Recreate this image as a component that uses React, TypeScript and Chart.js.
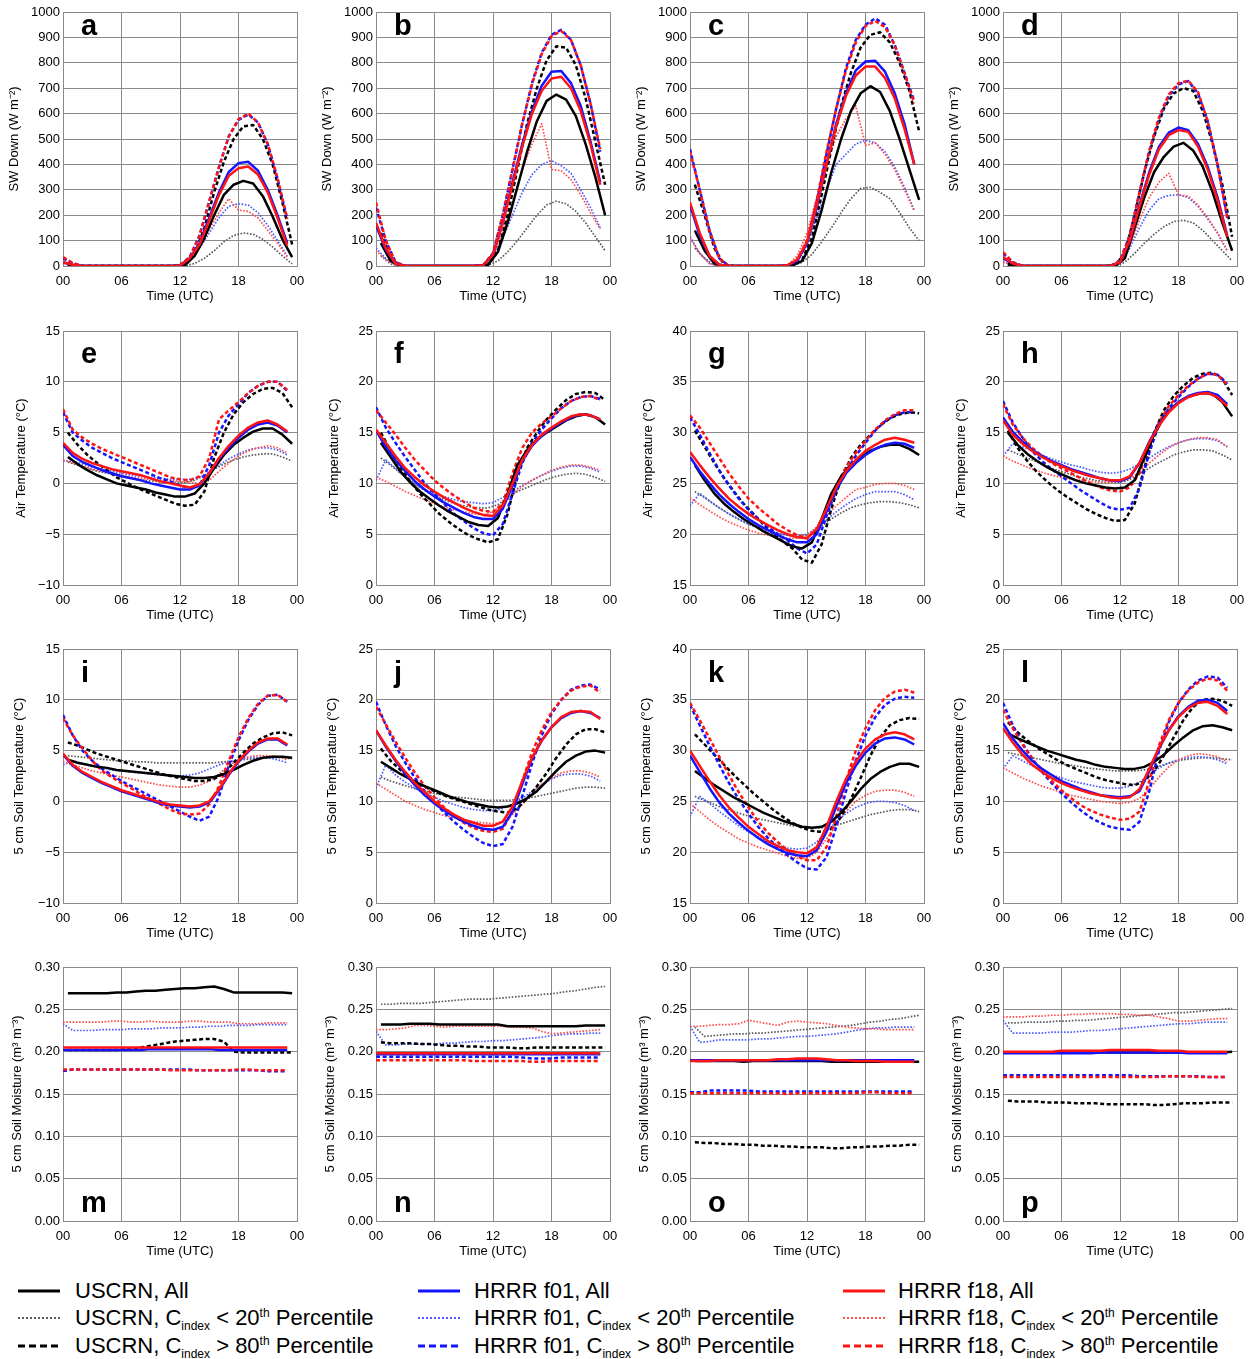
import React, { useEffect, useRef } from "react";
import { Chart, registerables } from "chart.js";

Chart.register(...registerables);

const FONT = '"Liberation Sans", Arial, Helvetica, sans-serif';
Chart.defaults.font.family = FONT;
Chart.defaults.color = "#000";

// ---- time axes -------------------------------------------------------------
// Model (HRRR) values are valid on the hour, station (USCRN) values mid-hour.
const HOURS_HRRR = [0, 1, 2, 3, 4, 5, 6, 7, 8, 9, 10, 11, 12, 13, 14, 15, 16, 17, 18, 19, 20, 21, 22, 23];
const HOURS_OBS = [0.5, 1.5, 2.5, 3.5, 4.5, 5.5, 6.5, 7.5, 8.5, 9.5, 10.5, 11.5, 12.5, 13.5, 14.5, 15.5, 16.5, 17.5, 18.5, 19.5, 20.5, 21.5, 22.5, 23.5];
const X_TICK_LABELS = ["00", "06", "12", "18", "00"];

// Series order in every panel:
// USCRN all, USCRN <20th, USCRN >80th, f01 all, f01 <20th, f01 >80th, f18 all, f18 <20th, f18 >80th
type Series = (number | null)[];

// ---- a-d: downward shortwave (W m-2) ---------------------------------------
const SW_A: Series[] = [
  [5, 0, 0, 0, 0, 0, 0, 0, 0, 0, 0, 0, 3, 40, 110, 200, 280, 320, 335, 325, 275, 195, 105, 35],
  [2, 0, 0, 0, 0, 0, 0, 0, 0, 0, 0, 0, 0, 10, 30, 60, 95, 120, 130, 125, 105, 75, 40, 8],
  [10, 0, 0, 0, 0, 0, 0, 0, 0, 0, 0, 0, 3, 45, 150, 290, 410, 500, 550, 555, 500, 400, 250, 85],
  [15, 5, 0, 0, 0, 0, 0, 0, 0, 0, 0, 0, 2, 30, 90, 190, 290, 370, 405, 410, 375, 300, 200, 90],
  [8, 3, 0, 0, 0, 0, 0, 0, 0, 0, 0, 0, 2, 25, 70, 130, 190, 235, 245, 240, 210, 160, 100, 40],
  [30, 10, 0, 0, 0, 0, 0, 0, 0, 0, 0, 0, 3, 35, 120, 255, 390, 510, 575, 597, 565, 480, 345, 185],
  [15, 5, 0, 0, 0, 0, 0, 0, 0, 0, 0, 0, 2, 30, 85, 180, 280, 355, 385, 392, 360, 290, 190, 80],
  [10, 3, 0, 0, 0, 0, 0, 0, 0, 0, 0, 0, 2, 25, 75, 145, 210, 265, 220, 215, 190, 140, 90, 35],
  [35, 12, 0, 0, 0, 0, 0, 0, 0, 0, 0, 0, 3, 35, 120, 255, 390, 510, 578, 600, 565, 480, 345, 185],
];
const SW_B: Series[] = [
  [90, 20, 0, 0, 0, 0, 0, 0, 0, 0, 0, 5, 55, 170, 310, 450, 570, 650, 675, 655, 590, 480, 350, 200],
  [40, 8, 0, 0, 0, 0, 0, 0, 0, 0, 0, 2, 20, 55, 100, 150, 200, 240, 255, 245, 215, 170, 115, 60],
  [130, 30, 0, 0, 0, 0, 0, 0, 0, 0, 0, 5, 60, 200, 380, 560, 700, 810, 865, 860, 790, 660, 490, 320],
  [160, 65, 10, 0, 0, 0, 0, 0, 0, 0, 0, 3, 45, 170, 330, 480, 610, 710, 765, 768, 720, 630, 490, 330],
  [70, 30, 5, 0, 0, 0, 0, 0, 0, 0, 0, 2, 35, 110, 200, 290, 360, 400, 415, 395, 365, 300, 230, 150],
  [230, 100, 15, 0, 0, 0, 0, 0, 0, 0, 0, 4, 50, 200, 380, 560, 720, 840, 910, 930, 890, 790, 640, 450],
  [170, 70, 10, 0, 0, 0, 0, 0, 0, 0, 0, 3, 45, 170, 320, 470, 600, 690, 738, 745, 700, 610, 480, 320],
  [60, 25, 5, 0, 0, 0, 0, 0, 0, 0, 0, 2, 40, 130, 250, 380, 480, 560, 380, 375, 340, 280, 210, 145],
  [250, 100, 15, 0, 0, 0, 0, 0, 0, 0, 0, 4, 50, 200, 380, 560, 715, 835, 905, 925, 890, 790, 640, 460],
];
const SW_C: Series[] = [
  [140, 60, 10, 0, 0, 0, 0, 0, 0, 0, 2, 20, 90, 220, 370, 500, 610, 680, 708, 685, 610, 500, 380, 260],
  [70, 30, 5, 0, 0, 0, 0, 0, 0, 0, 2, 15, 45, 95, 150, 210, 265, 305, 310, 290, 265, 210, 150, 100],
  [320, 200, 70, 5, 0, 0, 0, 0, 0, 0, 3, 25, 110, 280, 460, 630, 760, 860, 910, 920, 880, 800, 690, 530],
  [240, 120, 40, 5, 0, 0, 0, 0, 0, 0, 2, 20, 90, 230, 400, 560, 680, 770, 805, 808, 765, 680, 560, 400],
  [115, 50, 10, 0, 0, 0, 0, 0, 0, 0, 2, 20, 90, 190, 300, 400, 440, 480, 495, 485, 450, 390, 310, 220],
  [460, 300, 140, 30, 0, 0, 0, 0, 0, 0, 2, 20, 90, 250, 440, 620, 780, 890, 950, 975, 950, 870, 760, 650],
  [250, 130, 40, 5, 0, 0, 0, 0, 0, 0, 3, 25, 95, 240, 400, 550, 670, 750, 785, 785, 740, 660, 540, 400],
  [110, 50, 10, 0, 0, 0, 0, 0, 0, 0, 3, 40, 130, 270, 400, 510, 580, 630, 475, 485, 440, 380, 300, 215],
  [450, 300, 140, 30, 0, 0, 0, 0, 0, 0, 3, 25, 100, 260, 450, 620, 770, 880, 945, 965, 940, 870, 760, 640],
];
const SW_D: Series[] = [
  [5, 0, 0, 0, 0, 0, 0, 0, 0, 0, 0, 0, 30, 150, 270, 370, 430, 470, 485, 455, 390, 290, 170, 60],
  [2, 0, 0, 0, 0, 0, 0, 0, 0, 0, 0, 0, 15, 50, 90, 125, 155, 175, 180, 170, 140, 100, 60, 20],
  [10, 0, 0, 0, 0, 0, 0, 0, 0, 0, 0, 3, 50, 200, 370, 510, 620, 680, 700, 690, 610, 480, 320, 115],
  [30, 10, 0, 0, 0, 0, 0, 0, 0, 0, 0, 0, 15, 100, 240, 370, 470, 525, 545, 535, 480, 390, 270, 120],
  [15, 5, 0, 0, 0, 0, 0, 0, 0, 0, 0, 0, 10, 70, 150, 220, 265, 278, 280, 270, 235, 185, 130, 60],
  [50, 15, 0, 0, 0, 0, 0, 0, 0, 0, 0, 0, 20, 120, 290, 450, 580, 670, 715, 728, 680, 570, 400, 190],
  [35, 10, 0, 0, 0, 0, 0, 0, 0, 0, 0, 0, 15, 100, 235, 360, 460, 515, 535, 528, 470, 380, 260, 115],
  [15, 5, 0, 0, 0, 0, 0, 0, 0, 0, 0, 0, 10, 80, 180, 270, 330, 365, 280, 275, 240, 190, 130, 60],
  [55, 15, 0, 0, 0, 0, 0, 0, 0, 0, 0, 0, 20, 120, 290, 455, 585, 675, 720, 730, 685, 570, 400, 190],
];

// ---- e-h: 2 m air temperature (°C) ------------------------------------------
const AIR_E: Series[] = [
  [2.6, 1.9, 1.3, 0.8, 0.4, 0.0, -0.2, -0.4, -0.6, -0.9, -1.1, -1.3, -1.3, -1.0, 0.0, 1.5, 2.8, 3.8, 4.5, 5.1, 5.4, 5.4, 4.8, 3.9],
  [2.1, 1.8, 1.5, 1.2, 1.0, 0.8, 0.6, 0.4, 0.3, 0.2, 0.1, 0.1, 0.1, 0.3, 0.8, 1.4, 1.9, 2.3, 2.6, 2.8, 2.9, 2.9, 2.6, 2.2],
  [5.0, 3.8, 2.8, 2.0, 1.3, 0.6, 0.1, -0.4, -0.8, -1.2, -1.6, -2.0, -2.2, -2.1, -0.8, 2.5, 5.0, 6.8, 8.0, 8.8, 9.3, 9.4, 8.9, 7.5],
  [3.8, 2.7, 2.1, 1.7, 1.3, 1.0, 0.7, 0.5, 0.3, 0.0, -0.2, -0.4, -0.6, -0.6, -0.2, 1.0, 2.4, 3.5, 4.5, 5.3, 5.8, 6.0, 5.7, 5.0],
  [2.2, 2.2, 1.9, 1.6, 1.4, 1.2, 1.0, 0.8, 0.7, 0.6, 0.5, 0.4, 0.4, 0.4, 0.6, 1.0, 1.8, 2.4, 2.9, 3.3, 3.5, 3.5, 3.3, 2.8],
  [7.0, 5.0, 4.2, 3.5, 3.0, 2.5, 2.1, 1.7, 1.3, 0.9, 0.5, 0.2, -0.2, -0.5, -0.2, 1.8, 5.0, 6.7, 7.8, 8.9, 9.6, 10.0, 10.0, 9.1],
  [4.0, 3.0, 2.4, 2.0, 1.7, 1.4, 1.2, 1.0, 0.8, 0.5, 0.2, 0.0, -0.2, -0.4, -0.1, 1.0, 2.5, 3.7, 4.7, 5.5, 6.0, 6.2, 5.8, 5.1],
  [2.3, 2.0, 1.7, 1.4, 1.2, 1.0, 0.8, 0.6, 0.5, 0.4, 0.3, 0.3, 0.2, 0.1, 0.0, 0.3, 1.2, 2.0, 2.7, 3.2, 3.5, 3.7, 3.5, 3.0],
  [7.3, 5.3, 4.5, 3.9, 3.4, 3.0, 2.6, 2.2, 1.8, 1.4, 1.0, 0.6, 0.4, 0.3, 0.7, 2.5, 6.3, 7.2, 8.0, 8.9, 9.6, 10.0, 10.0, 9.2],
];
const AIR_F: Series[] = [
  [14.0, 12.6, 11.2, 10.1, 9.2, 8.5, 7.8, 7.2, 6.7, 6.2, 5.9, 5.8, 6.6, 9.0, 11.8, 13.3, 14.3, 15.0, 15.6, 16.2, 16.6, 16.8, 16.5, 15.8],
  [12.5, 11.8, 11.0, 10.3, 9.6, 9.0, 8.6, 8.2, 7.9, 7.7, 7.6, 7.6, 7.9, 8.6, 9.2, 9.6, 10.0, 10.4, 10.7, 10.9, 11.0, 10.9, 10.6, 10.2],
  [15.0, 13.2, 11.6, 10.2, 9.0, 8.0, 7.0, 6.2, 5.5, 4.9, 4.5, 4.2, 4.5, 7.0, 11.0, 13.5, 15.0, 16.3, 17.3, 18.2, 18.8, 19.0, 18.9, 18.2],
  [15.2, 13.6, 12.3, 11.2, 10.2, 9.4, 8.7, 8.1, 7.6, 7.1, 6.7, 6.5, 6.5, 7.5, 9.8, 12.2, 13.7, 14.7, 15.4, 16.0, 16.5, 16.8, 16.7, 16.3],
  [10.3, 12.3, 11.5, 10.6, 9.9, 9.4, 9.0, 8.7, 8.4, 8.2, 8.1, 8.0, 8.1, 8.6, 9.2, 9.8, 10.3, 10.8, 11.2, 11.5, 11.7, 11.7, 11.5, 11.1],
  [17.5, 15.5, 14.0, 12.6, 11.3, 10.0, 9.0, 8.0, 7.0, 6.3, 5.6, 5.1, 4.9, 6.0, 9.0, 12.0, 14.0, 15.3, 16.4, 17.4, 18.1, 18.5, 18.6, 18.3],
  [15.3, 14.0, 12.7, 11.5, 10.6, 9.8, 9.2, 8.6, 8.1, 7.6, 7.2, 6.9, 6.8, 7.8, 10.0, 12.3, 13.8, 14.8, 15.5, 16.1, 16.6, 16.8, 16.7, 16.3],
  [10.6, 10.2, 9.7, 9.2, 8.8, 8.4, 8.0, 7.7, 7.4, 7.2, 7.0, 6.9, 7.2, 8.0, 8.9, 9.7, 10.3, 10.8, 11.3, 11.6, 11.8, 11.8, 11.6, 11.3],
  [17.2, 16.0, 14.8, 13.5, 12.3, 11.3, 10.3, 9.5, 8.8, 8.2, 7.6, 7.3, 7.2, 8.0, 11.0, 13.5, 15.0, 15.9, 16.6, 17.4, 18.1, 18.5, 18.6, 18.2],
];
const AIR_G: Series[] = [
  [26.8, 25.3, 24.0, 23.0, 22.2, 21.5, 20.9, 20.3, 19.8, 19.3, 18.8, 18.6, 19.2, 21.5, 24.0, 25.7, 26.8, 27.6, 28.2, 28.6, 28.8, 28.8, 28.4, 27.8],
  [24.2, 23.6, 22.9, 22.3, 21.7, 21.2, 20.8, 20.5, 20.2, 20.0, 19.8, 19.8, 20.0, 20.8, 21.5, 22.1, 22.6, 22.9, 23.1, 23.2, 23.2, 23.1, 22.9, 22.6],
  [30.2, 28.6, 27.0, 25.5, 24.2, 23.0, 22.0, 21.0, 20.1, 19.3, 18.6, 17.5, 17.2, 19.0, 22.5, 25.5, 27.5, 28.8, 29.8, 30.7, 31.4, 31.8, 32.0, 31.9],
  [27.6, 26.2, 25.0, 23.9, 23.0, 22.2, 21.5, 20.9, 20.4, 19.9, 19.5, 19.2, 19.2, 20.0, 22.2, 24.4, 26.0, 27.0, 27.8, 28.4, 28.8, 29.0, 28.9, 28.5],
  [22.8, 24.0, 23.3, 22.6, 22.0, 21.5, 21.0, 20.7, 20.4, 20.1, 19.9, 19.8, 20.0, 20.6, 21.4, 22.2, 22.9, 23.5, 23.9, 24.2, 24.2, 24.2, 23.9, 23.4],
  [31.5, 29.8, 28.0, 26.3, 24.8, 23.5, 22.4, 21.5, 20.7, 20.0, 19.4, 18.6, 18.1, 19.0, 21.8, 24.3, 26.2, 27.7, 29.0, 30.2, 31.1, 31.7, 32.0, 32.0],
  [28.1, 26.8, 25.6, 24.5, 23.5, 22.7, 22.0, 21.4, 20.9, 20.4, 20.0, 19.7, 19.6, 20.5, 22.5, 24.6, 26.2, 27.3, 28.2, 28.8, 29.3, 29.5, 29.3, 29.0],
  [23.6, 22.9, 22.3, 21.7, 21.2, 20.8, 20.4, 20.1, 19.9, 19.7, 19.6, 19.6, 19.9, 20.7, 21.8, 22.8, 23.6, 24.4, 24.6, 24.9, 25.0, 25.0, 24.8, 24.4],
  [31.7, 30.5, 29.0, 27.5, 26.0, 24.7, 23.5, 22.6, 21.8, 21.0, 20.4, 19.9, 19.6, 20.5, 22.5, 24.7, 26.6, 28.0, 29.2, 30.3, 31.2, 31.8, 32.2, 32.2],
];
const AIR_H: Series[] = [
  [15.0, 13.8, 12.9, 12.2, 11.6, 11.1, 10.7, 10.3, 10.0, 9.8, 9.6, 9.5, 9.6, 10.3, 12.5, 14.8, 16.5, 17.6, 18.3, 18.7, 18.9, 18.8, 18.0, 16.6],
  [13.3, 12.9, 12.5, 12.1, 11.7, 11.3, 11.0, 10.7, 10.5, 10.3, 10.2, 10.1, 10.2, 10.6, 11.2, 11.8, 12.3, 12.8, 13.1, 13.3, 13.3, 13.2, 12.8, 12.3],
  [15.2, 13.5, 12.2, 11.1, 10.2, 9.4, 8.7, 8.1, 7.5, 7.0, 6.6, 6.3, 6.4, 8.0, 11.5, 15.0, 17.2, 18.6, 19.6, 20.4, 20.8, 20.9, 20.3, 18.7],
  [16.5, 15.1, 14.1, 13.3, 12.7, 12.2, 11.8, 11.4, 11.1, 10.8, 10.5, 10.3, 10.2, 10.6, 12.0, 14.1, 15.8, 17.1, 18.0, 18.6, 18.9, 19.0, 18.7, 17.8],
  [12.7, 13.9, 13.6, 13.2, 12.8, 12.4, 12.1, 11.8, 11.6, 11.3, 11.1, 11.0, 11.1, 11.4, 11.9, 12.5, 13.1, 13.6, 14.0, 14.3, 14.4, 14.4, 14.2, 13.6],
  [18.1, 16.0, 14.5, 13.2, 12.2, 11.4, 10.7, 10.0, 9.3, 8.7, 8.1, 7.6, 7.4, 7.6, 9.5, 13.0, 15.8, 17.4, 18.5, 19.5, 20.3, 20.8, 20.7, 19.8],
  [16.2, 14.8, 13.9, 13.2, 12.6, 12.1, 11.7, 11.3, 11.0, 10.7, 10.5, 10.3, 10.3, 10.7, 12.0, 14.0, 15.7, 17.0, 17.9, 18.5, 18.8, 18.9, 18.5, 17.6],
  [12.7, 12.2, 11.8, 11.4, 11.1, 10.8, 10.6, 10.4, 10.3, 10.2, 10.1, 10.1, 10.2, 10.5, 11.1, 12.0, 12.8, 13.5, 14.0, 14.3, 14.5, 14.5, 14.3, 13.6],
  [17.8, 15.8, 14.5, 13.5, 12.7, 12.0, 11.5, 11.0, 10.5, 10.0, 9.6, 9.3, 9.2, 9.6, 11.0, 13.8, 16.0, 17.6, 18.7, 19.6, 20.3, 20.8, 20.7, 19.7],
];

// ---- i-l: 5 cm soil temperature (°C) ----------------------------------------
const SOIL_I: Series[] = [
  [4.1, 3.8, 3.6, 3.4, 3.3, 3.1, 3.0, 2.9, 2.8, 2.7, 2.6, 2.5, 2.4, 2.3, 2.3, 2.4, 2.7, 3.1, 3.6, 4.0, 4.3, 4.4, 4.4, 4.3],
  [4.5, 4.4, 4.3, 4.2, 4.1, 4.0, 4.0, 3.9, 3.9, 3.8, 3.8, 3.8, 3.8, 3.8, 3.8, 3.8, 3.9, 4.0, 4.1, 4.2, 4.3, 4.3, 4.3, 4.2],
  [5.8, 5.5, 5.1, 4.7, 4.4, 4.1, 3.8, 3.5, 3.2, 2.9, 2.6, 2.4, 2.2, 2.0, 2.0, 2.2, 2.8, 3.8, 4.8, 5.7, 6.3, 6.7, 6.8, 6.5],
  [4.6, 3.5, 2.8, 2.3, 1.8, 1.4, 1.0, 0.7, 0.4, 0.1, -0.2, -0.4, -0.5, -0.6, -0.5, -0.1, 1.1, 2.6, 3.9, 4.9, 5.7, 6.1, 6.1, 5.5],
  [3.6, 4.0, 3.7, 3.5, 3.3, 3.1, 3.0, 2.9, 2.8, 2.7, 2.6, 2.5, 2.5, 2.6, 2.8, 3.2, 3.6, 3.9, 4.1, 4.3, 4.3, 4.3, 4.1, 3.8],
  [8.5, 6.5, 5.0, 4.0, 3.2, 2.6, 2.0, 1.5, 1.0, 0.5, 0.0, -0.5, -1.0, -1.5, -1.9, -1.5, 0.5, 3.5, 6.0, 8.0, 9.5, 10.4, 10.5, 9.8],
  [4.7, 3.6, 2.9, 2.4, 1.9, 1.5, 1.1, 0.8, 0.5, 0.2, -0.1, -0.3, -0.4, -0.5, -0.4, 0.0, 1.2, 2.7, 4.0, 5.0, 5.8, 6.2, 6.2, 5.6],
  [3.9, 3.6, 3.3, 3.0, 2.8, 2.6, 2.4, 2.2, 2.0, 1.8, 1.6, 1.5, 1.4, 1.4, 1.6, 2.0, 2.7, 3.5, 4.1, 4.4, 4.5, 4.5, 4.4, 4.1],
  [8.2, 6.5, 5.2, 4.0, 3.0, 2.4, 1.8, 1.3, 0.7, 0.2, -0.3, -0.8, -1.2, -1.3, -1.2, -0.3, 1.5, 4.0, 6.3, 8.2, 9.6, 10.4, 10.5, 9.8],
];
const SOIL_J: Series[] = [
  [13.9, 13.3, 12.7, 12.2, 11.7, 11.3, 10.9, 10.5, 10.2, 9.9, 9.7, 9.5, 9.4, 9.5, 9.8, 10.3, 11.0, 12.0, 13.0, 13.9, 14.5, 14.9, 15.0, 14.8],
  [12.4, 12.0, 11.7, 11.4, 11.1, 10.9, 10.7, 10.5, 10.4, 10.3, 10.2, 10.1, 10.1, 10.1, 10.2, 10.3, 10.5, 10.7, 10.9, 11.1, 11.3, 11.4, 11.4, 11.3],
  [15.2, 14.0, 13.1, 12.3, 11.7, 11.2, 10.8, 10.4, 10.1, 9.8, 9.5, 9.2, 9.0, 8.9, 9.3, 10.3, 11.5, 12.8, 14.3, 15.6, 16.6, 17.1, 17.1, 16.8],
  [17.0, 15.4, 14.0, 12.7, 11.6, 10.6, 9.8, 9.1, 8.5, 8.0, 7.6, 7.3, 7.2, 7.5, 9.0, 11.7, 14.2, 16.0, 17.3, 18.2, 18.7, 18.9, 18.7, 18.2],
  [11.3, 13.6, 12.6, 11.9, 11.3, 10.8, 10.4, 10.0, 9.7, 9.4, 9.2, 9.1, 9.1, 9.3, 9.7, 10.3, 11.0, 11.6, 12.2, 12.6, 12.7, 12.7, 12.5, 12.0],
  [19.8, 17.5, 15.5, 13.8, 12.3, 11.0, 9.9, 8.9, 8.0, 7.2, 6.5, 5.9, 5.6, 5.8, 7.5, 10.5, 13.7, 16.5, 18.6, 20.0, 21.0, 21.4, 21.5, 21.0],
  [17.0, 15.5, 14.1, 12.9, 11.8, 10.9, 10.0, 9.3, 8.7, 8.2, 7.9, 7.6, 7.6, 8.0, 9.5, 12.0, 14.3, 16.0, 17.3, 18.3, 18.8, 18.9, 18.8, 18.1],
  [11.8, 11.2, 10.6, 10.0, 9.6, 9.2, 8.9, 8.6, 8.4, 8.2, 8.0, 7.9, 7.8, 8.0, 8.7, 9.7, 10.8, 11.7, 12.3, 12.8, 13.0, 13.0, 12.8, 12.4],
  [19.3, 17.6, 15.9, 14.3, 12.8, 11.5, 10.4, 9.4, 8.6, 7.9, 7.4, 7.1, 7.0, 7.3, 9.0, 12.0, 14.8, 17.0, 18.8, 20.0, 20.9, 21.3, 21.4, 20.7],
];
const SOIL_K: Series[] = [
  [28.0, 27.3, 26.6, 26.0, 25.4, 24.9, 24.4, 23.9, 23.5, 23.1, 22.8, 22.5, 22.4, 22.5, 23.0, 23.9, 25.0, 26.2, 27.2, 27.9, 28.4, 28.7, 28.7, 28.4],
  [25.5, 25.1, 24.7, 24.3, 24.0, 23.7, 23.4, 23.2, 23.0, 22.8, 22.6, 22.5, 22.4, 22.4, 22.5, 22.8, 23.1, 23.4, 23.7, 23.9, 24.1, 24.2, 24.2, 24.0],
  [31.6, 30.6, 29.6, 28.6, 27.6, 26.7, 25.8, 25.0, 24.2, 23.5, 22.9, 22.4, 22.1, 22.0, 22.3, 23.5, 25.2, 27.3, 29.5, 31.3, 32.5, 33.0, 33.2, 33.1],
  [29.5, 27.9, 26.3, 24.9, 23.8, 22.9, 22.1, 21.4, 20.8, 20.3, 19.9, 19.7, 19.6, 20.2, 22.0, 24.5, 26.8, 28.5, 29.8, 30.7, 31.2, 31.3, 31.1, 30.6],
  [23.5, 25.5, 24.8, 24.0, 23.3, 22.6, 22.0, 21.5, 21.0, 20.7, 20.4, 20.3, 20.4, 21.0, 22.0, 23.0, 23.8, 24.4, 24.8, 25.0, 25.0, 24.9, 24.6, 24.1],
  [34.5, 32.5, 30.5, 28.6, 26.8, 25.2, 23.8, 22.5, 21.4, 20.5, 19.7, 19.0, 18.4, 18.3, 19.5, 22.5, 26.0, 29.0, 31.5, 33.3, 34.5, 35.1, 35.3, 35.2],
  [30.0, 28.5, 27.0, 25.6, 24.4, 23.4, 22.5, 21.8, 21.1, 20.6, 20.2, 20.0, 19.9, 20.5, 22.5, 25.0, 27.2, 28.9, 30.2, 31.1, 31.6, 31.8, 31.6, 31.1],
  [24.8, 24.0, 23.2, 22.5, 21.9, 21.3, 20.9, 20.5, 20.2, 19.9, 19.6, 19.4, 19.4, 20.0, 21.3, 22.7, 24.0, 25.0, 25.6, 26.0, 26.1, 26.1, 25.9, 25.5],
  [34.7, 33.0, 31.2, 29.4, 27.6, 25.9, 24.4, 23.0, 21.9, 21.0, 20.2, 19.6, 19.2, 19.2, 20.5, 23.5, 27.0, 30.0, 32.2, 34.0, 35.2, 35.8, 36.0, 35.7],
];
const SOIL_L: Series[] = [
  [16.7, 16.2, 15.8, 15.4, 15.0, 14.7, 14.4, 14.1, 13.9, 13.6, 13.4, 13.3, 13.2, 13.2, 13.4, 13.9, 14.6, 15.5, 16.3, 17.0, 17.4, 17.5, 17.3, 17.0],
  [14.8, 14.6, 14.4, 14.2, 14.0, 13.8, 13.6, 13.5, 13.3, 13.2, 13.1, 13.0, 13.0, 13.0, 13.1, 13.3, 13.6, 13.9, 14.1, 14.2, 14.3, 14.3, 14.2, 14.1],
  [17.8, 16.8, 16.0, 15.3, 14.7, 14.1, 13.6, 13.2, 12.8, 12.4, 12.1, 11.9, 11.7, 11.6, 12.0, 13.0, 14.5, 16.3, 18.0, 19.3, 20.0, 20.1, 19.9, 19.4],
  [17.7, 16.2, 15.0, 14.0, 13.2, 12.6, 12.0, 11.6, 11.2, 10.9, 10.6, 10.5, 10.4, 10.5, 11.0, 13.0, 15.2, 17.0, 18.4, 19.3, 19.9, 20.0, 19.7, 18.9],
  [13.2, 14.5, 14.0, 13.5, 13.0, 12.6, 12.3, 12.0, 11.8, 11.6, 11.4, 11.3, 11.3, 11.5, 11.9, 12.6, 13.3, 13.8, 14.1, 14.3, 14.4, 14.3, 14.1, 13.7],
  [19.7, 17.5, 15.7, 14.2, 12.9, 11.8, 10.8, 9.9, 9.1, 8.4, 7.9, 7.5, 7.3, 7.2, 8.0, 11.0, 15.0, 17.8, 19.7, 21.0, 21.9, 22.3, 22.2, 21.2],
  [17.2, 15.8, 14.6, 13.6, 12.9, 12.3, 11.8, 11.4, 11.1, 10.8, 10.6, 10.4, 10.3, 10.4, 11.2, 13.2, 15.3, 17.0, 18.3, 19.2, 19.7, 19.8, 19.4, 18.6],
  [13.3, 12.8, 12.3, 11.9, 11.5, 11.2, 10.9, 10.6, 10.4, 10.2, 10.0, 9.9, 9.8, 9.9, 10.3, 11.2, 12.4, 13.4, 14.1, 14.5, 14.7, 14.6, 14.4, 13.9],
  [19.0, 17.2, 15.6, 14.2, 13.0, 12.0, 11.1, 10.3, 9.6, 9.1, 8.7, 8.4, 8.2, 8.3, 9.0, 12.0, 15.5, 18.0, 19.7, 20.9, 21.7, 22.1, 21.9, 20.9],
];

// ---- m-p: 5 cm soil moisture (m3 m-3) ---------------------------------------
const SM_M: Series[] = [
  [0.269, 0.269, 0.269, 0.269, 0.269, 0.270, 0.270, 0.271, 0.272, 0.272, 0.273, 0.274, 0.275, 0.275, 0.276, 0.277, 0.274, 0.270, 0.270, 0.270, 0.270, 0.270, 0.270, 0.269],
  [],
  [0.202, 0.202, 0.202, 0.202, 0.202, 0.202, 0.203, 0.204, 0.206, 0.208, 0.210, 0.212, 0.213, 0.214, 0.215, 0.215, 0.212, 0.200, 0.199, 0.199, 0.199, 0.199, 0.199, 0.199],
  [0.202, 0.202, 0.202, 0.202, 0.202, 0.202, 0.202, 0.202, 0.202, 0.203, 0.203, 0.203, 0.203, 0.203, 0.203, 0.203, 0.202, 0.202, 0.202, 0.202, 0.202, 0.202, 0.202, 0.202],
  [0.233, 0.225, 0.225, 0.225, 0.226, 0.226, 0.226, 0.227, 0.227, 0.227, 0.228, 0.228, 0.228, 0.229, 0.229, 0.230, 0.230, 0.231, 0.231, 0.231, 0.232, 0.232, 0.232, 0.232],
  [0.177, 0.179, 0.179, 0.179, 0.179, 0.179, 0.179, 0.179, 0.179, 0.179, 0.179, 0.179, 0.179, 0.179, 0.178, 0.178, 0.178, 0.178, 0.178, 0.178, 0.178, 0.177, 0.177, 0.177],
  [0.205, 0.205, 0.205, 0.205, 0.205, 0.205, 0.205, 0.205, 0.205, 0.205, 0.205, 0.205, 0.205, 0.205, 0.205, 0.205, 0.205, 0.205, 0.205, 0.205, 0.205, 0.205, 0.205, 0.205],
  [0.235, 0.235, 0.235, 0.235, 0.235, 0.236, 0.236, 0.235, 0.235, 0.236, 0.235, 0.235, 0.235, 0.236, 0.236, 0.235, 0.235, 0.235, 0.233, 0.233, 0.233, 0.234, 0.234, 0.234],
  [0.179, 0.179, 0.179, 0.179, 0.179, 0.179, 0.179, 0.179, 0.179, 0.179, 0.179, 0.178, 0.178, 0.178, 0.178, 0.178, 0.178, 0.178, 0.179, 0.179, 0.178, 0.178, 0.178, 0.178],
];
const SM_N: Series[] = [
  [0.232, 0.232, 0.232, 0.233, 0.233, 0.233, 0.232, 0.232, 0.232, 0.232, 0.232, 0.232, 0.232, 0.230, 0.230, 0.230, 0.230, 0.230, 0.230, 0.230, 0.230, 0.231, 0.231, 0.231],
  [0.256, 0.256, 0.257, 0.257, 0.257, 0.258, 0.259, 0.260, 0.261, 0.262, 0.262, 0.262, 0.263, 0.264, 0.265, 0.266, 0.267, 0.268, 0.269, 0.271, 0.272, 0.274, 0.276, 0.277],
  [0.211, 0.210, 0.210, 0.210, 0.209, 0.209, 0.208, 0.207, 0.207, 0.206, 0.206, 0.205, 0.205, 0.205, 0.204, 0.204, 0.205, 0.205, 0.205, 0.205, 0.205, 0.205, 0.205, 0.205],
  [0.197, 0.197, 0.197, 0.197, 0.197, 0.197, 0.197, 0.197, 0.197, 0.197, 0.197, 0.197, 0.197, 0.197, 0.197, 0.197, 0.197, 0.197, 0.197, 0.197, 0.197, 0.197, 0.197, 0.197],
  [0.224, 0.208, 0.208, 0.209, 0.209, 0.209, 0.209, 0.210, 0.210, 0.211, 0.212, 0.212, 0.213, 0.213, 0.214, 0.215, 0.216, 0.217, 0.219, 0.220, 0.221, 0.221, 0.222, 0.222],
  [0.194, 0.194, 0.194, 0.194, 0.194, 0.194, 0.194, 0.194, 0.194, 0.194, 0.194, 0.194, 0.194, 0.194, 0.194, 0.193, 0.192, 0.192, 0.192, 0.193, 0.193, 0.193, 0.193, 0.193],
  [0.198, 0.198, 0.198, 0.198, 0.198, 0.198, 0.198, 0.198, 0.198, 0.198, 0.198, 0.198, 0.198, 0.198, 0.198, 0.198, 0.198, 0.198, 0.198, 0.198, 0.198, 0.198, 0.198, 0.198],
  [0.226, 0.226, 0.227, 0.228, 0.231, 0.231, 0.230, 0.229, 0.230, 0.230, 0.230, 0.230, 0.230, 0.230, 0.229, 0.229, 0.228, 0.224, 0.221, 0.222, 0.223, 0.224, 0.225, 0.226],
  [0.190, 0.190, 0.190, 0.190, 0.190, 0.190, 0.190, 0.190, 0.190, 0.190, 0.189, 0.189, 0.189, 0.189, 0.189, 0.189, 0.188, 0.188, 0.189, 0.189, 0.189, 0.189, 0.189, 0.189],
];
const SM_O: Series[] = [
  [0.189, 0.189, 0.189, 0.189, 0.189, 0.188, 0.189, 0.189, 0.189, 0.189, 0.189, 0.189, 0.189, 0.189, 0.188, 0.188, 0.188, 0.188, 0.188, 0.188, 0.188, 0.188, 0.188, 0.188],
  [0.229, 0.218, 0.219, 0.220, 0.221, 0.221, 0.222, 0.222, 0.223, 0.224, 0.225, 0.226, 0.227, 0.228, 0.229, 0.230, 0.231, 0.233, 0.235, 0.236, 0.238, 0.239, 0.241, 0.243],
  [0.093, 0.092, 0.092, 0.091, 0.091, 0.090, 0.090, 0.089, 0.089, 0.088, 0.088, 0.087, 0.087, 0.087, 0.086, 0.086, 0.087, 0.087, 0.088, 0.088, 0.089, 0.089, 0.090, 0.090],
  [0.190, 0.190, 0.190, 0.190, 0.190, 0.190, 0.190, 0.190, 0.190, 0.190, 0.190, 0.190, 0.190, 0.190, 0.190, 0.190, 0.190, 0.190, 0.190, 0.190, 0.190, 0.190, 0.190, 0.190],
  [0.230, 0.211, 0.212, 0.214, 0.214, 0.214, 0.214, 0.215, 0.215, 0.216, 0.217, 0.218, 0.218, 0.219, 0.220, 0.221, 0.223, 0.225, 0.227, 0.228, 0.228, 0.229, 0.229, 0.229],
  [0.152, 0.152, 0.154, 0.154, 0.154, 0.154, 0.154, 0.153, 0.153, 0.153, 0.153, 0.153, 0.153, 0.153, 0.153, 0.153, 0.153, 0.153, 0.153, 0.153, 0.153, 0.153, 0.153, 0.153],
  [0.189, 0.189, 0.189, 0.190, 0.190, 0.190, 0.190, 0.190, 0.190, 0.191, 0.191, 0.192, 0.192, 0.192, 0.191, 0.190, 0.190, 0.189, 0.189, 0.189, 0.188, 0.188, 0.188, 0.188],
  [0.230, 0.230, 0.231, 0.232, 0.232, 0.233, 0.237, 0.235, 0.233, 0.231, 0.235, 0.236, 0.235, 0.234, 0.233, 0.231, 0.229, 0.228, 0.227, 0.227, 0.226, 0.226, 0.226, 0.226],
  [0.151, 0.151, 0.151, 0.151, 0.151, 0.151, 0.151, 0.151, 0.151, 0.151, 0.150, 0.151, 0.151, 0.151, 0.151, 0.151, 0.151, 0.151, 0.152, 0.152, 0.151, 0.151, 0.151, 0.151],
];
const SM_P: Series[] = [
  [0.199, 0.199, 0.199, 0.199, 0.199, 0.199, 0.199, 0.199, 0.199, 0.199, 0.199, 0.199, 0.199, 0.199, 0.199, 0.199, 0.199, 0.199, 0.199, 0.199, 0.199, 0.199, 0.199, 0.200],
  [0.234, 0.234, 0.235, 0.235, 0.235, 0.236, 0.236, 0.237, 0.237, 0.238, 0.239, 0.240, 0.241, 0.242, 0.243, 0.244, 0.245, 0.246, 0.246, 0.247, 0.248, 0.249, 0.250, 0.251],
  [0.142, 0.141, 0.141, 0.141, 0.140, 0.140, 0.140, 0.139, 0.139, 0.139, 0.138, 0.138, 0.138, 0.138, 0.138, 0.137, 0.137, 0.138, 0.139, 0.139, 0.139, 0.140, 0.140, 0.140],
  [0.198, 0.198, 0.198, 0.198, 0.198, 0.198, 0.198, 0.198, 0.198, 0.198, 0.199, 0.199, 0.199, 0.199, 0.199, 0.199, 0.199, 0.199, 0.199, 0.198, 0.198, 0.198, 0.198, 0.198],
  [0.237, 0.222, 0.222, 0.222, 0.222, 0.223, 0.223, 0.223, 0.224, 0.225, 0.225, 0.226, 0.227, 0.228, 0.229, 0.230, 0.231, 0.232, 0.233, 0.233, 0.234, 0.235, 0.235, 0.235],
  [0.172, 0.172, 0.172, 0.172, 0.172, 0.172, 0.172, 0.172, 0.172, 0.172, 0.172, 0.172, 0.172, 0.172, 0.171, 0.171, 0.171, 0.171, 0.171, 0.171, 0.171, 0.170, 0.170, 0.170],
  [0.200, 0.200, 0.200, 0.200, 0.200, 0.200, 0.201, 0.201, 0.201, 0.201, 0.201, 0.202, 0.202, 0.202, 0.202, 0.202, 0.201, 0.201, 0.201, 0.200, 0.200, 0.200, 0.200, 0.200],
  [0.241, 0.241, 0.241, 0.242, 0.242, 0.243, 0.243, 0.244, 0.244, 0.245, 0.245, 0.245, 0.244, 0.244, 0.243, 0.243, 0.241, 0.239, 0.236, 0.236, 0.237, 0.238, 0.239, 0.239],
  [0.170, 0.170, 0.170, 0.170, 0.170, 0.170, 0.170, 0.170, 0.170, 0.170, 0.170, 0.170, 0.170, 0.170, 0.170, 0.170, 0.170, 0.171, 0.171, 0.171, 0.170, 0.170, 0.170, 0.170],
];

// ---- series appearance -----------------------------------------------------
const SOURCES = ["USCRN", "HRRR f01", "HRRR f18"];
const SOURCE_COLORS = ["#000000", "#1414ff", "#ff1414"];
const SOURCE_LIGHT = ["#5a5a5a", "#4a5cff", "#ff4d4d"];
const KINDS = ["all", "low", "high"] as const;

function seriesStyle(idx: number) {
  const src = Math.floor(idx / 3);
  const kind = KINDS[idx % 3];
  const base = { src, kind };
  if (kind === "all") return { ...base, color: SOURCE_COLORS[src], width: 2.5, dash: [] as number[], rank: 6 + src };
  if (kind === "low") return { ...base, color: SOURCE_LIGHT[src], width: 1.7, dash: [1.6, 1.6], rank: src };
  return { ...base, color: SOURCE_COLORS[src], width: 2.5, dash: [4, 2.6], rank: 3 + src };
}

// ---- panel layout ----------------------------------------------------------
const COL_LEFT = [63, 376, 690, 1003];
const ROW_TOP = [12, 331, 649, 967];
const PLOT_W = 234;
const PLOT_H = 254;
const CANVAS_W = 313;
const CANVAS_H = 318;

type RowSpec = { title: string; titlePad: number; letterY: number; fromBottom: boolean; decimals: number };
const ROWS: RowSpec[] = [
  { title: "SW Down (W m\u207B\u00B2)", titlePad: 7, letterY: 23, fromBottom: false, decimals: 0 },
  { title: "Air Temperature (\u00B0C)", titlePad: 14, letterY: 32, fromBottom: false, decimals: 0 },
  { title: "5 cm Soil Temperature (\u00B0C)", titlePad: 12, letterY: 33, fromBottom: false, decimals: 0 },
  { title: "5 cm Soil Moisture (m\u00B3 m\u207B\u00B3)", titlePad: 10, letterY: 9, fromBottom: true, decimals: 2 },
];

type PanelSpec = { letter: string; row: number; col: number; series: Series[]; yMin: number; yMax: number; yStep: number };
const PANELS: PanelSpec[] = [
  { letter: "a", row: 0, col: 0, series: SW_A, yMin: 0, yMax: 1000, yStep: 100 },
  { letter: "b", row: 0, col: 1, series: SW_B, yMin: 0, yMax: 1000, yStep: 100 },
  { letter: "c", row: 0, col: 2, series: SW_C, yMin: 0, yMax: 1000, yStep: 100 },
  { letter: "d", row: 0, col: 3, series: SW_D, yMin: 0, yMax: 1000, yStep: 100 },
  { letter: "e", row: 1, col: 0, series: AIR_E, yMin: -10, yMax: 15, yStep: 5 },
  { letter: "f", row: 1, col: 1, series: AIR_F, yMin: 0, yMax: 25, yStep: 5 },
  { letter: "g", row: 1, col: 2, series: AIR_G, yMin: 15, yMax: 40, yStep: 5 },
  { letter: "h", row: 1, col: 3, series: AIR_H, yMin: 0, yMax: 25, yStep: 5 },
  { letter: "i", row: 2, col: 0, series: SOIL_I, yMin: -10, yMax: 15, yStep: 5 },
  { letter: "j", row: 2, col: 1, series: SOIL_J, yMin: 0, yMax: 25, yStep: 5 },
  { letter: "k", row: 2, col: 2, series: SOIL_K, yMin: 15, yMax: 40, yStep: 5 },
  { letter: "l", row: 2, col: 3, series: SOIL_L, yMin: 0, yMax: 25, yStep: 5 },
  { letter: "m", row: 3, col: 0, series: SM_M, yMin: 0, yMax: 0.3, yStep: 0.05 },
  { letter: "n", row: 3, col: 1, series: SM_N, yMin: 0, yMax: 0.3, yStep: 0.05 },
  { letter: "o", row: 3, col: 2, series: SM_O, yMin: 0, yMax: 0.3, yStep: 0.05 },
  { letter: "p", row: 3, col: 3, series: SM_P, yMin: 0, yMax: 0.3, yStep: 0.05 },
];

const GRID_COLOR = "#8a8a8a";

// Bold panel letter inside the plot area
const panelLetterPlugin = {
  id: "panelLetter",
  afterDatasetsDraw(chart: any, _args: any, opts: any) {
    const { ctx, chartArea } = chart;
    ctx.save();
    ctx.font = `bold 29px ${FONT}`;
    ctx.fillStyle = "#000";
    ctx.textBaseline = "alphabetic";
    ctx.textAlign = "left";
    const y = opts.fromBottom ? chartArea.bottom - opts.offset : chartArea.top + opts.offset;
    ctx.fillText(opts.text, chartArea.left + 18, y);
    ctx.restore();
  },
};

function formatY(v: number, decimals: number) {
  if (decimals > 0) return v.toFixed(decimals);
  const r = Math.round(v);
  return r < 0 ? "\u2212" + Math.abs(r) : String(r);
}

function Panel({ spec }: { spec: PanelSpec }) {
  const ref = useRef<HTMLCanvasElement>(null);
  const row = ROWS[spec.row];

  useEffect(() => {
    if (!ref.current) return;
    const datasets = spec.series.map((vals, i) => {
      const st = seriesStyle(i);
      const xs = st.src === 0 ? HOURS_OBS : HOURS_HRRR;
      return {
        label: `${SOURCES[st.src]} ${st.kind}`,
        data: vals.map((y, k) => ({ x: xs[k], y })),
        borderColor: st.color,
        backgroundColor: st.color,
        borderWidth: st.width,
        borderDash: st.dash,
        borderCapStyle: "butt" as const,
        borderJoinStyle: "round" as const,
        pointRadius: 0,
        tension: 0,
        fill: false,
        order: 20 - st.rank,
      };
    });

    const chart = new Chart(ref.current, {
      type: "line",
      data: { datasets },
      plugins: [panelLetterPlugin],
      options: {
        responsive: false,
        animation: false,
        devicePixelRatio: 1,
        layout: { padding: { left: 0, top: 12, right: CANVAS_W - 63 - PLOT_W, bottom: 0 } },
        plugins: {
          legend: { display: false },
          tooltip: { enabled: false },
          panelLetter: { text: spec.letter, offset: row.letterY, fromBottom: row.fromBottom },
        } as any,
        scales: {
          x: {
            type: "linear",
            min: 0,
            max: 24,
            afterFit: (s: any) => {
              s.height = CANVAS_H - 12 - PLOT_H;
            },
            grid: { color: GRID_COLOR, lineWidth: 1, drawTicks: false },
            border: { color: GRID_COLOR, width: 1 },
            ticks: {
              stepSize: 6,
              autoSkip: false,
              maxRotation: 0,
              padding: 8,
              color: "#000",
              font: { size: 13 },
              callback: (v: any) => X_TICK_LABELS[Math.round(Number(v) / 6)],
            },
            title: { display: true, text: "Time (UTC)", color: "#000", font: { size: 13 }, padding: { top: 0, bottom: 14 } },
          },
          y: {
            type: "linear",
            min: spec.yMin,
            max: spec.yMax,
            afterFit: (s: any) => {
              s.width = 63;
            },
            grid: { color: GRID_COLOR, lineWidth: 1, drawTicks: false },
            border: { color: GRID_COLOR, width: 1 },
            ticks: {
              stepSize: spec.yStep,
              autoSkip: false,
              padding: 3,
              color: "#000",
              font: { size: 13 },
              callback: (v: any) => formatY(Number(v), row.decimals),
            },
            title: { display: true, text: row.title, color: "#000", font: { size: 13 }, padding: { top: row.titlePad, bottom: 0 } },
          },
        },
      } as any,
    });
    return () => chart.destroy();
  }, [spec]);

  return (
    <canvas
      ref={ref}
      width={CANVAS_W}
      height={CANVAS_H}
      style={{
        position: "absolute",
        left: COL_LEFT[spec.col] - 63,
        top: ROW_TOP[spec.row] - 12,
        width: CANVAS_W,
        height: CANVAS_H,
      }}
    />
  );
}

// ---- legend ----------------------------------------------------------------
const LEGEND_SAMPLE_X = [18, 418, 843];
const LEGEND_TEXT_X = [75, 474, 898];
const LEGEND_ROW_Y = [1291, 1318, 1346];
const PERCENTILES = ["20", "80"];

function LegendLabel({ src, kind }: { src: number; kind: string }) {
  if (kind === "all") return <>{SOURCES[src]}, All</>;
  const low = kind === "low";
  return (
    <>
      {SOURCES[src]}, C
      <span style={{ fontSize: 12, position: "relative", top: 5, lineHeight: 0 }}>index</span>
      {low ? " < " : " > "}
      {low ? PERCENTILES[0] : PERCENTILES[1]}
      <span style={{ fontSize: 12, position: "relative", top: -8, lineHeight: 0 }}>th</span> Percentile
    </>
  );
}

function Legend() {
  const items: React.ReactNode[] = [];
  for (let src = 0; src < 3; src++) {
    for (let k = 0; k < 3; k++) {
      const st = seriesStyle(src * 3 + k);
      const cy = LEGEND_ROW_Y[k];
      const dash = st.kind === "all" ? undefined : st.kind === "low" ? "2 2" : "7 4";
      items.push(
        <svg
          key={`s${src}${k}`}
          width={42}
          height={8}
          style={{ position: "absolute", left: LEGEND_SAMPLE_X[src], top: cy - 4 }}
        >
          <line
            x1={0}
            y1={4}
            x2={42}
            y2={4}
            stroke={st.color}
            strokeWidth={st.kind === "low" ? 2 : 3}
            strokeDasharray={dash}
          />
        </svg>
      );
      items.push(
        <div
          key={`t${src}${k}`}
          style={{
            position: "absolute",
            left: LEGEND_TEXT_X[src],
            top: cy - 13,
            height: 26,
            lineHeight: "26px",
            fontSize: 22,
            whiteSpace: "nowrap",
            color: "#000",
          }}
        >
          <LegendLabel src={src} kind={st.kind} />
        </div>
      );
    }
  }
  return <>{items}</>;
}

export default function App() {
  return (
    <div
      style={{
        position: "absolute",
        left: 0,
        top: 0,
        width: 1253,
        height: 1359,
        background: "#fff",
        fontFamily: FONT,
        overflow: "hidden",
      }}
    >
      {PANELS.map((p) => (
        <Panel key={p.letter} spec={p} />
      ))}
      <Legend />
    </div>
  );
}
